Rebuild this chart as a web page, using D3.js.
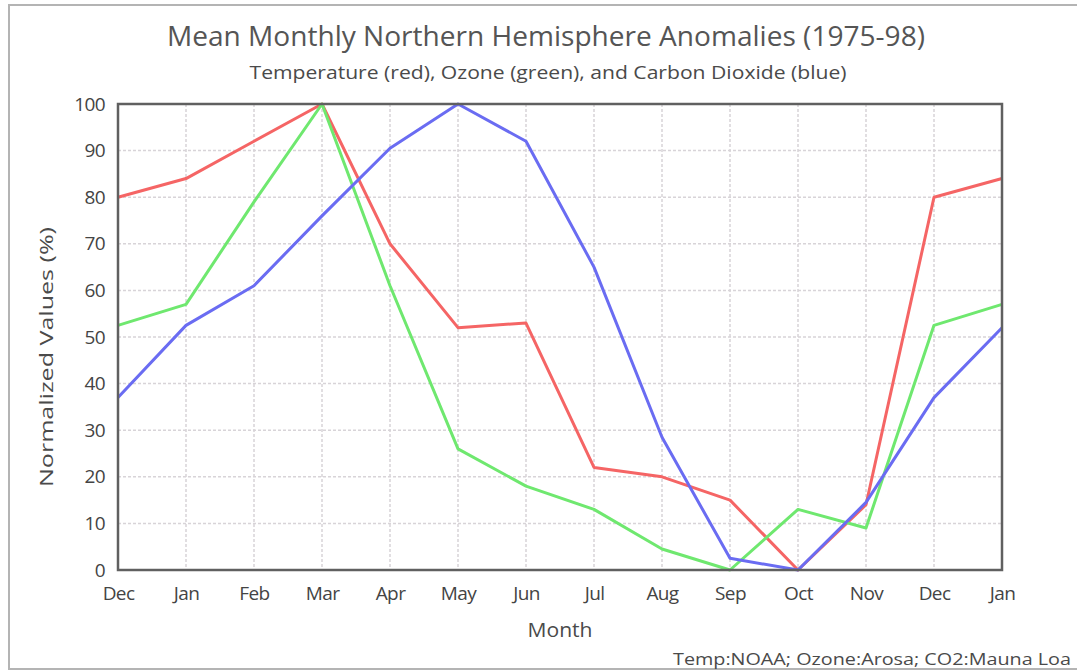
<!DOCTYPE html>
<html>
<head>
<meta charset="utf-8">
<script src="https://cdn.jsdelivr.net/npm/d3@7"></script>
<style>
  body { margin: 0; background: #fff; }
  svg { display: block; font-family: "Open Sans", sans-serif; }
</style>
</head>
<body>
<svg id="chart"></svg>
<script>
// month labels along the x axis (Dec .. Jan of following year)
const months = ["Dec", "Jan", "Feb", "Mar", "Apr", "May", "Jun", "Jul", "Aug", "Sep", "Oct", "Nov", "Dec", "Jan"];

// normalized values (%)
const temperature = [80, 84, 92, 100, 70, 52, 53, 22, 20, 15, 0, 14, 80, 84];
const ozone = [52.5, 57, 79, 100, 61, 26, 18, 13, 4.5, 0, 13, 9, 52.5, 57];
const co2 = [37, 52.5, 61, 76, 90.5, 100, 92, 65, 28.5, 2.5, 0, 14.5, 37, 52];

const yTicks = [0, 10, 20, 30, 40, 50, 60, 70, 80, 90, 100];

const series = [
  { name: "Temperature", values: temperature, color: "#f56565" },
  { name: "Ozone", values: ozone, color: "#6fe86f" },
  { name: "CO2", values: co2, color: "#6a6cf2" }
];

const width = 1077, height = 670;
const margin = { top: 104, right: 75, bottom: 100, left: 118 };

const svg = d3.select("#chart")
  .attr("width", width)
  .attr("height", height);

// outer frame
svg.append("rect")
  .attr("x", 9).attr("y", 5)
  .attr("width", width + 20).attr("height", height - 6)
  .attr("fill", "none")
  .attr("stroke", "#b4b4b4")
  .attr("stroke-width", 2);

const x = d3.scalePoint()
  .domain(d3.range(months.length))
  .range([margin.left, width - margin.right]);

const y = d3.scaleLinear()
  .domain([0, 100])
  .range([height - margin.bottom, margin.top]);

// grid
svg.append("g")
  .selectAll("line")
  .data(yTicks.slice(1, -1))
  .join("line")
  .attr("x1", margin.left).attr("x2", width - margin.right)
  .attr("y1", d => y(d)).attr("y2", d => y(d))
  .attr("stroke", "#d8d4d8")
  .attr("stroke-width", 1.5)
  .attr("stroke-dasharray", "3,2");

svg.append("g")
  .selectAll("line")
  .data(d3.range(1, months.length - 1))
  .join("line")
  .attr("x1", d => x(d)).attr("x2", d => x(d))
  .attr("y1", margin.top).attr("y2", height - margin.bottom)
  .attr("stroke", "#d8d4d8")
  .attr("stroke-width", 1.5)
  .attr("stroke-dasharray", "3,2");

// axes
const xAxis = svg.append("g")
  .attr("transform", `translate(0,${height - margin.bottom})`)
  .call(d3.axisBottom(x).tickSize(0).tickPadding(17).tickFormat(i => months[i]));

const yAxis = svg.append("g")
  .attr("transform", `translate(${margin.left},0)`)
  .call(d3.axisLeft(y).tickValues(yTicks).tickSize(0).tickPadding(13));

[xAxis, yAxis].forEach(g => {
  g.select(".domain").remove();
  g.selectAll("text")
    .attr("font-family", "Open Sans, sans-serif")
    .attr("font-size", 19)
    .attr("letter-spacing", -0.6)
    .attr("fill", "#444");
});

// series lines
const line = d3.line()
  .x((d, i) => x(i))
  .y(d => y(d));

svg.append("g")
  .selectAll("path")
  .data(series)
  .join("path")
  .attr("d", d => line(d.values))
  .attr("fill", "none")
  .attr("stroke", d => d.color)
  .attr("stroke-width", 3)
  .attr("stroke-linejoin", "round");

// plot border
svg.append("rect")
  .attr("x", margin.left).attr("y", margin.top)
  .attr("width", width - margin.left - margin.right)
  .attr("height", height - margin.top - margin.bottom)
  .attr("fill", "none")
  .attr("stroke", "#606060")
  .attr("stroke-width", 2.5);

// titles
svg.append("text")
  .attr("x", 546).attr("y", 46)
  .attr("text-anchor", "middle")
  .attr("font-size", 28)
  .attr("fill", "#555")
  .attr("textLength", 758)
  .attr("lengthAdjust", "spacingAndGlyphs")
  .text("Mean Monthly Northern Hemisphere Anomalies (1975-98)");

svg.append("text")
  .attr("x", 548).attr("y", 79)
  .attr("text-anchor", "middle")
  .attr("font-size", 18)
  .attr("fill", "#4a4a4a")
  .attr("textLength", 597)
  .attr("lengthAdjust", "spacingAndGlyphs")
  .text("Temperature (red), Ozone (green), and Carbon Dioxide (blue)");

svg.append("text")
  .attr("x", 560).attr("y", 637)
  .attr("text-anchor", "middle")
  .attr("font-size", 20)
  .attr("fill", "#4a4a4a")
  .attr("textLength", 65)
  .attr("lengthAdjust", "spacingAndGlyphs")
  .text("Month");

svg.append("text")
  .attr("transform", "translate(53,357) rotate(-90)")
  .attr("text-anchor", "middle")
  .attr("font-size", 18)
  .attr("fill", "#4a4a4a")
  .attr("textLength", 260)
  .attr("lengthAdjust", "spacingAndGlyphs")
  .text("Normalized Values (%)");

svg.append("text")
  .attr("x", 1071).attr("y", 665)
  .attr("text-anchor", "end")
  .attr("font-size", 17)
  .attr("fill", "#4a4a4a")
  .attr("textLength", 398)
  .attr("lengthAdjust", "spacingAndGlyphs")
  .text("Temp:NOAA; Ozone:Arosa; CO2:Mauna Loa");
</script>
</body>
</html>
